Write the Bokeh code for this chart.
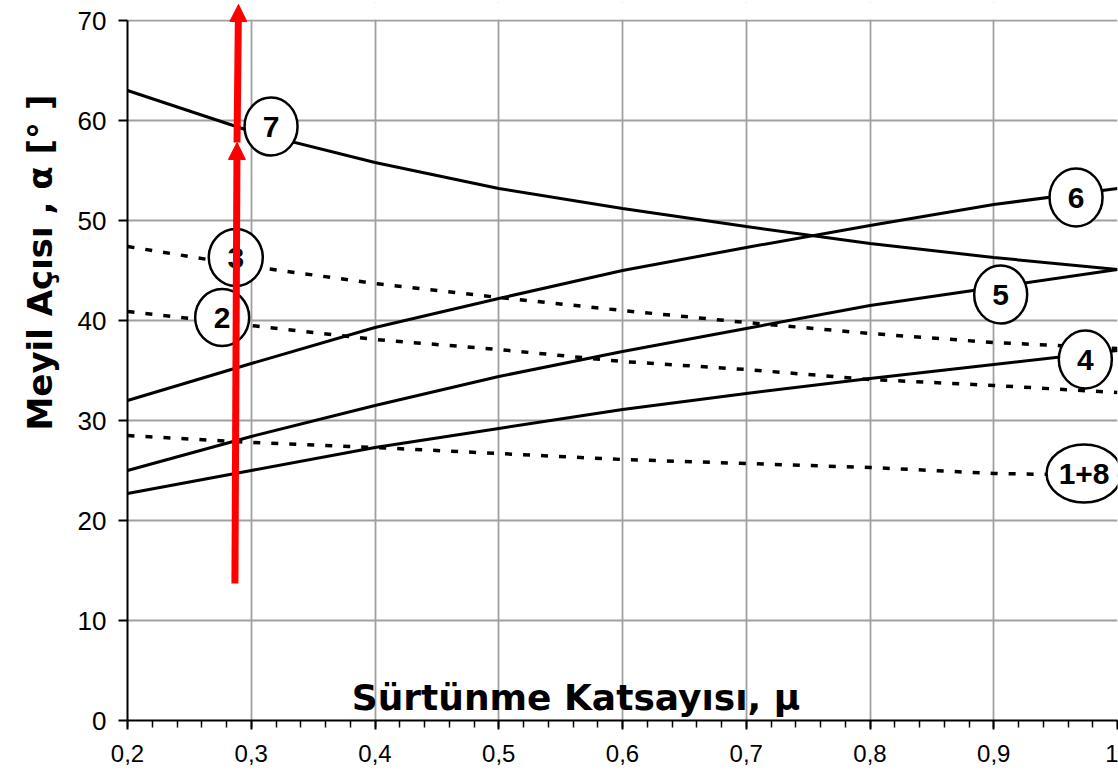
from bokeh.plotting import figure
from bokeh.models import FixedTicker, Arrow, NormalHead, Label, ColumnDataSource, Range1d, BoxAnnotation, Title
from bokeh.core.properties import value
from bokeh.embed import file_html
from bokeh.resources import INLINE

# ---------------- data ----------------
mu = [0.2, 0.3, 0.4, 0.5, 0.6, 0.7, 0.8, 0.9, 1.0]
curve7 = [63.0, 58.9, 55.8, 53.2, 51.2, 49.4, 47.7, 46.3, 45.1]
curve6 = [32.0, 35.7, 39.3, 42.2, 45.0, 47.3, 49.5, 51.6, 53.2]
curve5 = [25.0, 28.4, 31.5, 34.4, 36.9, 39.2, 41.5, 43.3, 45.1]
curve4 = [22.7, 25.0, 27.3, 29.2, 31.1, 32.7, 34.2, 35.6, 37.0]
curve3 = [47.4, 45.4, 43.7, 42.3, 41.0, 39.8, 38.7, 37.8, 37.2]
curve2 = [40.9, 39.5, 38.1, 37.1, 35.9, 35.1, 34.1, 33.5, 32.8]
curve18 = [28.5, 27.8, 27.3, 26.7, 26.1, 25.7, 25.3, 24.7, 24.5]

label_text = ["7", "3", "2", "6", "5", "4", "1+8"]
label_x = [0.316, 0.2875, 0.2765, 0.9665, 0.9056, 0.974, 0.973]
label_y = [59.4, 46.3, 40.3, 52.3, 42.6, 36.1, 24.7]
label_w = [53, 54, 54, 53, 53, 53, 75]
label_h = [58, 57, 57, 58, 58, 58, 58]

arrow_x = [0.2868, 0.2885, 0.2897]
arrow_y = [13.7, 57.8, 71.6]

x_ticks = [0.2, 0.3, 0.4, 0.5, 0.6, 0.7, 0.8, 0.9, 1.0]
x_tick_labels = ["0,2", "0,3", "0,4", "0,5", "0,6", "0,7", "0,8", "0,9", "1"]
x_minor = [round(0.2 + 0.02 * i, 2) for i in range(41)]
y_ticks = [0, 10, 20, 30, 40, 50, 60, 70]
y_max = 70

x_title = "Sürtünme Katsayısı, μ"
y_title = "Meyil Açısı , α [°  ]"

# ---------------- figure ----------------
p = figure(width=1118, height=776, x_range=Range1d(0.2, 1.0), y_range=Range1d(0, 71.8),
           output_backend="svg", toolbar_location=None,
           min_border_left=127, min_border_right=1, min_border_top=2, min_border_bottom=56)
p.title.visible = False
p.outline_line_color = None
p.background_fill_color = "white"
p.border_fill_color = "white"

p.xaxis.ticker = FixedTicker(ticks=x_ticks, minor_ticks=x_minor)
p.xaxis.major_label_overrides = dict(zip(x_ticks, x_tick_labels))
p.yaxis.ticker = FixedTicker(ticks=y_ticks, minor_ticks=[])
p.yaxis.bounds = (0, y_max)

for ax in (p.xaxis, p.yaxis):
    ax.axis_line_color = "black"
    ax.axis_line_width = 2
    ax.major_tick_line_color = "black"
    ax.major_tick_line_width = 2
    ax.major_tick_in = 0
    ax.major_tick_out = 9
    ax.minor_tick_in = 0
    ax.major_label_text_font = "Liberation Sans"
    ax.major_label_text_color = "black"

p.xaxis.minor_tick_out = 7
p.xaxis.minor_tick_line_color = "black"
p.xaxis.minor_tick_line_width = 1.5
p.xaxis.major_label_text_font_size = "24px"
p.xaxis.major_label_standoff = 15
p.yaxis.minor_tick_line_color = None
p.yaxis.major_label_text_font_size = "26px"
p.yaxis.major_label_standoff = 12

p.xgrid.grid_line_color = "#a0a0a0"
p.ygrid.grid_line_color = "#a0a0a0"
p.xgrid.grid_line_width = 1.8
p.ygrid.grid_line_width = 1.8

# mask the grid above the top of the value axis
p.add_layout(BoxAnnotation(bottom=y_max + 0.1, fill_color="white", fill_alpha=1.0,
                           line_color=None, level="underlay"))

# curves
for c in (curve7, curve6, curve5, curve4):
    p.line(mu, c, line_color="black", line_width=3)
for c in (curve3, curve2, curve18):
    p.line(mu, c, line_color="black", line_width=3.5, line_dash="7 11")

# labels (white ellipses with numbers)
src = ColumnDataSource(dict(x=label_x, y=label_y, w=label_w, h=label_h, t=label_text))
p.ellipse(x="x", y="y", width="w", height="h", width_units="screen", height_units="screen",
          fill_color="white", line_color="black", line_width=2.5, source=src)
p.text(x="x", y="y", text="t", source=src, text_font=value("Liberation Sans"),
       text_font_style="bold", text_font_size="30px", text_color="black",
       text_align="center", text_baseline="middle")

# red arrow
for i in range(2):
    p.add_layout(Arrow(x_start=arrow_x[i], y_start=arrow_y[i], x_end=arrow_x[i + 1], y_end=arrow_y[i + 1],
                       line_color="red", line_width=7,
                       end=NormalHead(size=17, fill_color="red", line_color="red", line_width=1)))

# axis titles
p.add_layout(Label(x=448.5, y=23, x_units="screen", y_units="screen", text=x_title,
                   text_font="DejaVu Sans", text_font_style="bold", text_font_size="36px",
                   text_align="center", text_baseline="alphabetic", text_color="black"))
p.add_layout(Title(text=y_title, align="left", offset=290, standoff=29,
                   text_font="DejaVu Sans", text_font_style="bold", text_font_size="34px",
                   text_color="black"), "left")

open("out.html", "w").write(file_html(p, INLINE))
